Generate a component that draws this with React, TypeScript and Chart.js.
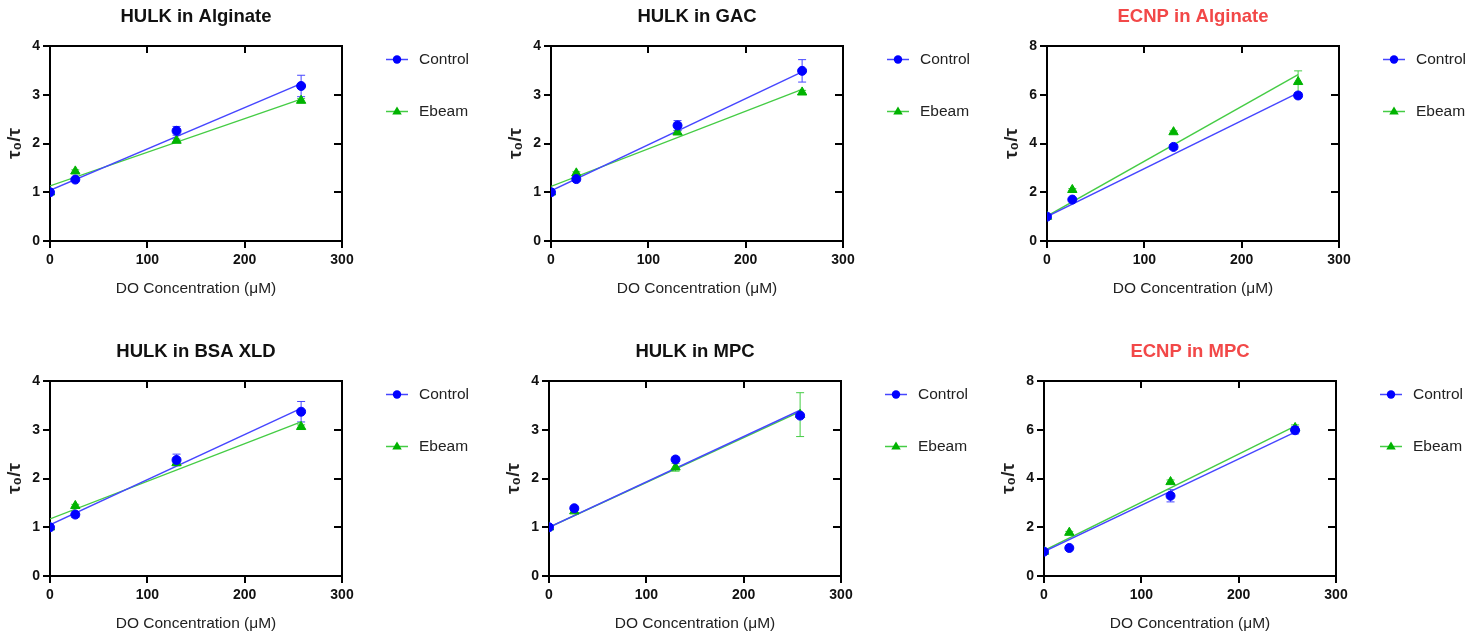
import React, { useEffect, useRef } from "react";
import { Chart, registerables } from "chart.js";

Chart.register(...registerables);

// ---------- data ----------
const concentrations = [0, 26, 130, 258];
const fitX = [0, 258];
const seriesNames = ["Control", "Ebeam"];
const xTicks = [0, 100, 200, 300];
const xAxisTitle = "DO Concentration (μM)";
const yAxisTitle = "τ₀/τ";

const titles = [
  "HULK in Alginate",
  "HULK in GAC",
  "ECNP in Alginate",
  "HULK in BSA XLD",
  "HULK in MPC",
  "ECNP in MPC",
];
const yMax = [4, 4, 8, 4, 4, 8];
const yStep = [1, 1, 2, 1, 1, 2];

const hulkAlginateControl = [1.0, 1.26, 2.26, 3.18];
const hulkAlginateControlErr = [0, 0.03, 0.09, 0.22];
const hulkAlginateEbeam = [1.0, 1.43, 2.06, 2.88];
const hulkAlginateEbeamErr = [0, 0.03, 0.03, 0.04];
const hulkAlginateControlFit = [1.04, 3.23];
const hulkAlginateEbeamFit = [1.13, 2.91];

const hulkGacControl = [1.0, 1.27, 2.37, 3.49];
const hulkGacControlErr = [0, 0.04, 0.1, 0.23];
const hulkGacEbeam = [1.0, 1.39, 2.23, 3.05];
const hulkGacEbeamErr = [0, 0.03, 0.03, 0.04];
const hulkGacControlFit = [1.03, 3.47];
const hulkGacEbeamFit = [1.12, 3.11];

const ecnpAlginateControl = [1.0, 1.7, 3.86, 5.97];
const ecnpAlginateControlErr = [0, 0.05, 0.1, 0.1];
const ecnpAlginateEbeam = [1.0, 2.1, 4.47, 6.53];
const ecnpAlginateEbeamErr = [0, 0.05, 0.05, 0.45];
const ecnpAlginateControlFit = [1.0, 6.08];
const ecnpAlginateEbeamFit = [1.02, 6.83];

const hulkBsaControl = [1.0, 1.26, 2.38, 3.37];
const hulkBsaControlErr = [0, 0.06, 0.12, 0.21];
const hulkBsaEbeam = [1.0, 1.44, 2.32, 3.06];
const hulkBsaEbeamErr = [0, 0.03, 0.03, 0.04];
const hulkBsaControlFit = [1.05, 3.44];
const hulkBsaEbeamFit = [1.17, 3.16];

const hulkMpcControl = [1.0, 1.39, 2.39, 3.29];
const hulkMpcControlErr = [0, 0.03, 0.03, 0.05];
const hulkMpcEbeam = [1.0, 1.33, 2.23, 3.31];
const hulkMpcEbeamErr = [0, 0.03, 0.08, 0.45];
const hulkMpcControlFit = [1.0, 3.4];
const hulkMpcEbeamFit = [1.0, 3.37];

const ecnpMpcControl = [1.0, 1.15, 3.29, 5.98];
const ecnpMpcControlErr = [0, 0.05, 0.25, 0.15];
const ecnpMpcEbeam = [1.0, 1.78, 3.86, 6.08];
const ecnpMpcEbeamErr = [0, 0.05, 0.08, 0.12];
const ecnpMpcControlFit = [1.0, 5.9];
const ecnpMpcEbeamFit = [1.04, 6.15];

// ---------- style / layout ----------
const FONT = "'Liberation Sans', Arial, Helvetica, sans-serif";
const CANVAS_W = 480;
const CANVAS_H = 318;
const PLOT_LEFT = 50;
const PLOT_TOP = 46;
const PLOT_W = 292;
const PLOT_H = 195;

const BLUE = "#0000ff";
const BLUE_LINE = "#4646ff";
const GREEN = "#00b300";
const GREEN_LINE = "#45cc45";

const panelPositions = [
  { left: 0, top: 0 },
  { left: 501, top: 0 },
  { left: 997, top: 0 },
  { left: 0, top: 335 },
  { left: 499, top: 335 },
  { left: 994, top: 335 },
];
const titleColors = ["#111", "#111", "#f24848", "#111", "#111", "#f24848"];

type PanelData = {
  control: number[];
  controlErr: number[];
  ebeam: number[];
  ebeamErr: number[];
  controlFit: number[];
  ebeamFit: number[];
};

const panelData: PanelData[] = [
  { control: hulkAlginateControl, controlErr: hulkAlginateControlErr, ebeam: hulkAlginateEbeam, ebeamErr: hulkAlginateEbeamErr, controlFit: hulkAlginateControlFit, ebeamFit: hulkAlginateEbeamFit },
  { control: hulkGacControl, controlErr: hulkGacControlErr, ebeam: hulkGacEbeam, ebeamErr: hulkGacEbeamErr, controlFit: hulkGacControlFit, ebeamFit: hulkGacEbeamFit },
  { control: ecnpAlginateControl, controlErr: ecnpAlginateControlErr, ebeam: ecnpAlginateEbeam, ebeamErr: ecnpAlginateEbeamErr, controlFit: ecnpAlginateControlFit, ebeamFit: ecnpAlginateEbeamFit },
  { control: hulkBsaControl, controlErr: hulkBsaControlErr, ebeam: hulkBsaEbeam, ebeamErr: hulkBsaEbeamErr, controlFit: hulkBsaControlFit, ebeamFit: hulkBsaEbeamFit },
  { control: hulkMpcControl, controlErr: hulkMpcControlErr, ebeam: hulkMpcEbeam, ebeamErr: hulkMpcEbeamErr, controlFit: hulkMpcControlFit, ebeamFit: hulkMpcEbeamFit },
  { control: ecnpMpcControl, controlErr: ecnpMpcControlErr, ebeam: ecnpMpcEbeam, ebeamErr: ecnpMpcEbeamErr, controlFit: ecnpMpcControlFit, ebeamFit: ecnpMpcEbeamFit },
];

const toPoints = (xs: number[], ys: number[]) => xs.map((x, i) => ({ x, y: ys[i] }));

function drawMarker(ctx: CanvasRenderingContext2D, kind: string, x: number, y: number, r: number, color: string) {
  ctx.save();
  ctx.fillStyle = color;
  ctx.beginPath();
  if (kind === "circle") {
    ctx.arc(x, y, r, 0, Math.PI * 2);
  } else {
    ctx.moveTo(x, y - r);
    ctx.lineTo(x + r * 0.95, y + r * 0.6);
    ctx.lineTo(x - r * 0.95, y + r * 0.6);
    ctx.closePath();
  }
  ctx.fill();
  ctx.restore();
}

function Panel({ index }: { index: number }) {
  const ref = useRef<HTMLCanvasElement>(null);

  useEffect(() => {
    const d = panelData[index];
    const errorSets = [
      { ys: d.control, errs: d.controlErr, color: BLUE_LINE },
      { ys: d.ebeam, errs: d.ebeamErr, color: GREEN_LINE },
    ];

    const errorBarPlugin = {
      id: "errorBars",
      beforeDatasetsDraw(chart: any) {
        const ctx = chart.ctx as CanvasRenderingContext2D;
        const xs = chart.scales.x;
        const ys = chart.scales.y;
        ctx.save();
        ctx.lineWidth = 1;
        for (const set of errorSets.slice().reverse()) {
          ctx.strokeStyle = set.color;
          concentrations.forEach((c, i) => {
            const e = set.errs[i];
            if (!e) return;
            const px = xs.getPixelForValue(c);
            const top = ys.getPixelForValue(set.ys[i] + e);
            const bot = ys.getPixelForValue(set.ys[i] - e);
            ctx.beginPath();
            ctx.moveTo(px, top);
            ctx.lineTo(px, bot);
            ctx.moveTo(px - 4, top);
            ctx.lineTo(px + 4, top);
            ctx.moveTo(px - 4, bot);
            ctx.lineTo(px + 4, bot);
            ctx.stroke();
          });
        }
        ctx.restore();
      },
    };

    const framePlugin = {
      id: "frameAndLegend",
      afterDraw(chart: any) {
        const ctx = chart.ctx as CanvasRenderingContext2D;
        const a = chart.chartArea;
        const xs = chart.scales.x;
        const ys = chart.scales.y;
        ctx.save();
        ctx.strokeStyle = "#000";
        ctx.lineWidth = 2;
        ctx.beginPath();
        ctx.moveTo(a.left, a.top);
        ctx.lineTo(a.right, a.top);
        ctx.lineTo(a.right, a.bottom);
        ctx.stroke();
        // inward ticks on the top and right edges
        ctx.beginPath();
        xs.ticks.forEach((t: any) => {
          if (t.value <= xs.min || t.value >= xs.max) return;
          const px = Math.round(xs.getPixelForValue(t.value));
          ctx.moveTo(px, a.top);
          ctx.lineTo(px, a.top + 7);
        });
        ys.ticks.forEach((t: any) => {
          if (t.value <= ys.min || t.value >= ys.max) return;
          const py = Math.round(ys.getPixelForValue(t.value));
          ctx.moveTo(a.right, py);
          ctx.lineTo(a.right - 8, py);
        });
        ctx.stroke();

        // legend
        const entries = [
          { name: seriesNames[0], line: BLUE_LINE, marker: BLUE, kind: "circle", dy: 13.5, r: 4.2 },
          { name: seriesNames[1], line: GREEN_LINE, marker: GREEN, kind: "triangle", dy: 65.5, r: 5 },
        ];
        entries.forEach((e) => {
          const y = a.top + e.dy;
          const x0 = a.right + 44;
          ctx.strokeStyle = e.line;
          ctx.lineWidth = 1.5;
          ctx.beginPath();
          ctx.moveTo(x0, y);
          ctx.lineTo(x0 + 22, y);
          ctx.stroke();
          drawMarker(ctx, e.kind, x0 + 11, y, e.r, e.marker);
          ctx.fillStyle = "#222";
          ctx.font = `15.5px ${FONT}`;
          ctx.textBaseline = "middle";
          ctx.textAlign = "left";
          ctx.fillText(e.name, a.right + 77, y);
        });
        ctx.restore();
      },
    };

    const chart = new Chart(ref.current as HTMLCanvasElement, {
      type: "scatter",
      data: {
        datasets: [
          {
            label: seriesNames[0],
            data: toPoints(concentrations, d.control),
            pointStyle: "circle",
            pointRadius: 4.5,
            pointBorderWidth: 1,
            backgroundColor: BLUE,
            borderColor: BLUE,
            showLine: false,
            order: 0,
          },
          {
            label: seriesNames[1],
            data: toPoints(concentrations, d.ebeam),
            pointStyle: "triangle",
            pointRadius: 5.4,
            pointBorderWidth: 1,
            backgroundColor: GREEN,
            borderColor: GREEN,
            showLine: false,
            order: 1,
          },
          {
            label: seriesNames[0] + " fit",
            data: toPoints(fitX, d.controlFit),
            showLine: true,
            pointRadius: 0,
            borderColor: BLUE_LINE,
            borderWidth: 1.4,
            order: 2,
          },
          {
            label: seriesNames[1] + " fit",
            data: toPoints(fitX, d.ebeamFit),
            showLine: true,
            pointRadius: 0,
            borderColor: GREEN_LINE,
            borderWidth: 1.4,
            order: 3,
          },
        ] as any,
      },
      options: {
        responsive: false,
        animation: false,
        devicePixelRatio: 1,
        layout: {
          padding: { left: 0, top: 0, right: CANVAS_W - PLOT_LEFT - PLOT_W, bottom: 0 },
        },
        plugins: {
          legend: { display: false },
          tooltip: { enabled: false },
          title: {
            display: true,
            text: titles[index],
            color: titleColors[index],
            fullSize: false,
            font: { family: FONT, size: 18.5, weight: "bold", lineHeight: "22px" },
            padding: { top: 6, bottom: PLOT_TOP - 28 },
          },
        },
        scales: {
          x: {
            type: "linear",
            position: "bottom",
            min: xTicks[0],
            max: xTicks[xTicks.length - 1],
            afterBuildTicks: (scale: any) => {
              scale.ticks = xTicks.map((v) => ({ value: v }));
            },
            afterFit: (scale: any) => {
              scale.height = CANVAS_H - PLOT_TOP - PLOT_H;
            },
            ticks: {
              color: "#111",
              padding: 4,
              maxRotation: 0,
              font: { family: FONT, size: 14, weight: "bold" },
            },
            grid: {
              drawOnChartArea: false,
              drawTicks: true,
              tickLength: 7,
              color: "#000",
              lineWidth: 2,
            },
            border: { display: true, color: "#000", width: 2 },
            title: {
              display: true,
              text: xAxisTitle,
              color: "#222",
              font: { family: FONT, size: 15.5, lineHeight: "18px" },
              padding: { top: 0, bottom: 20 },
            },
          },
          y: {
            type: "linear",
            position: "left",
            min: 0,
            max: yMax[index],
            ticks: {
              stepSize: yStep[index],
              color: "#111",
              padding: 3,
              font: { family: FONT, size: 14, weight: "bold" },
            },
            afterFit: (scale: any) => {
              scale.width = PLOT_LEFT;
            },
            grid: {
              drawOnChartArea: false,
              drawTicks: true,
              tickLength: 7,
              color: "#000",
              lineWidth: 2,
            },
            border: { display: true, color: "#000", width: 2 },
            title: {
              display: true,
              text: yAxisTitle,
              color: "#222",
              font: { family: FONT, size: 19, weight: "bold", lineHeight: "20px" },
              padding: { top: 5, bottom: 0 },
            },
          },
        },
      } as any,
      plugins: [errorBarPlugin, framePlugin],
    });
    return () => chart.destroy();
  }, [index]);

  const pos = panelPositions[index];
  return (
    <canvas
      ref={ref}
      width={CANVAS_W}
      height={CANVAS_H}
      style={{ position: "absolute", left: pos.left, top: pos.top, width: CANVAS_W, height: CANVAS_H }}
    />
  );
}

export default function App() {
  return (
    <div
      style={{
        position: "absolute",
        left: 0,
        top: 0,
        width: 1484,
        height: 635,
        overflow: "hidden",
        background: "#fff",
      }}
    >
      {titles.map((_, i) => (
        <Panel key={i} index={i} />
      ))}
    </div>
  );
}
